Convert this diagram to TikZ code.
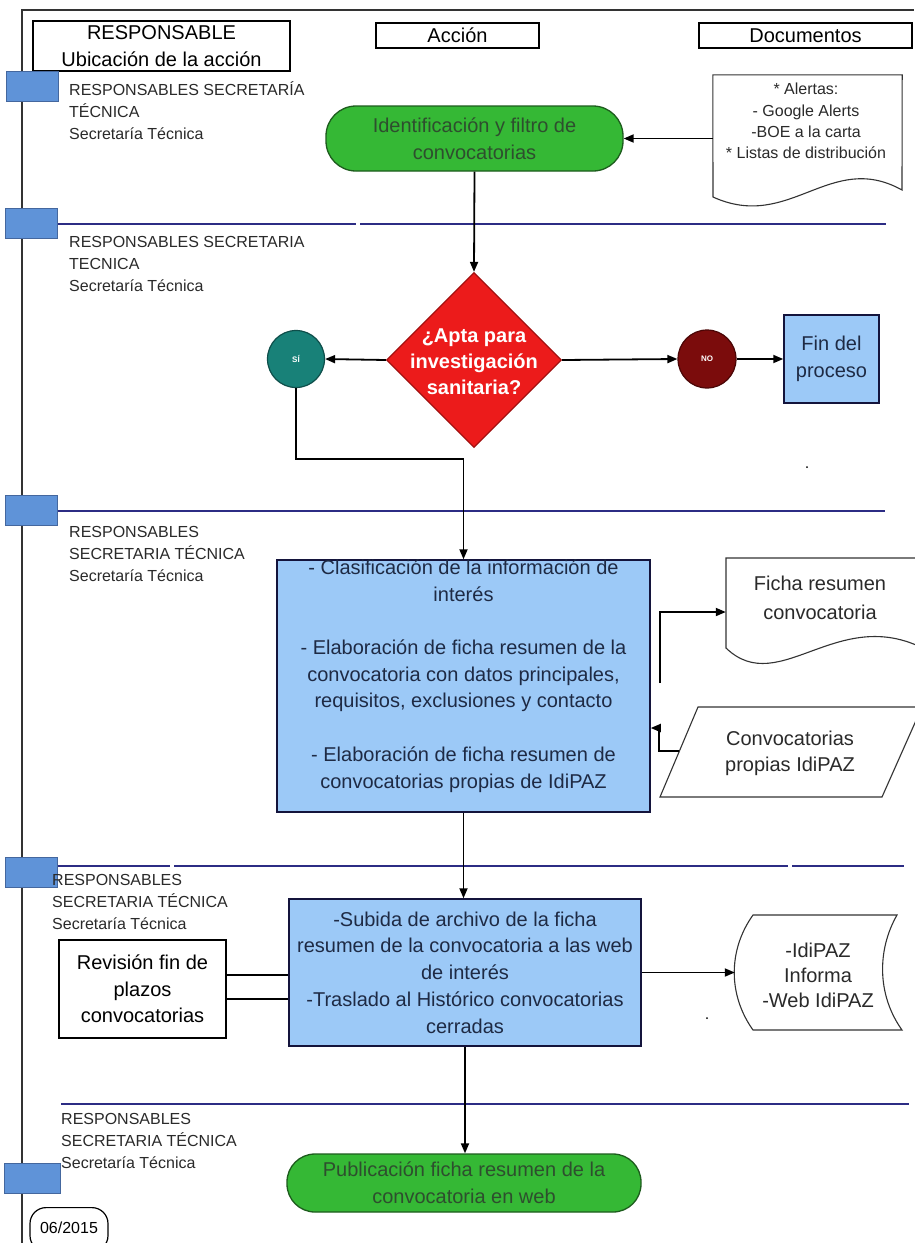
\documentclass[tikz,border=0pt]{standalone}
\usepackage{fontspec}
\setmainfont{Liberation Sans}
\usetikzlibrary{shapes.geometric,arrows.meta}
\definecolor{laneblue}{HTML}{5F93D8}
\definecolor{laneblueb}{HTML}{44679E}
\definecolor{navyline}{HTML}{2C2C84}
\definecolor{procfill}{HTML}{9CC9F7}
\definecolor{procdraw}{HTML}{14143C}
\definecolor{termfill}{HTML}{35B835}
\definecolor{termdraw}{HTML}{1D5C1D}
\definecolor{termtext}{HTML}{2E4E2E}
\definecolor{decfill}{HTML}{EC1B1B}
\definecolor{decdraw}{HTML}{A31010}
\definecolor{siteal}{HTML}{188178}
\definecolor{siteald}{HTML}{0E4E4A}
\definecolor{nored}{HTML}{7B0C0C}
\definecolor{noredd}{HTML}{4A0606}
\definecolor{boxtext}{HTML}{1E2A44}
\definecolor{lanetext}{HTML}{2A2A2A}
\definecolor{framec}{HTML}{333333}
\newcommand\fmain{\fontsize{20}{26.7}\selectfont}
\newcommand\flane{\fontsize{16}{22}\selectfont}
\newcommand\falert{\fontsize{16}{21.3}\selectfont}
\begin{document}
\begin{tikzpicture}[x=1pt,y=-1pt,
  arr/.style={-{Triangle[length=10pt,width=8pt]}, line width=1.8pt, black},
  plain/.style={line width=1.8pt, black},
  lanesq/.style={draw=laneblueb, fill=laneblue, line width=1pt, minimum width=52pt, minimum height=30pt, inner sep=0pt},
  divider/.style={navyline, line width=2.2pt},
  lanelbl/.style={anchor=base west, align=left, inner sep=0pt, font=\flane, text=lanetext},
  hdrbox/.style={draw=black, line width=1.3pt, inner sep=0pt, font=\fmain, align=center},
  termbox/.style={draw=termdraw, fill=termfill, line width=1.3pt, rounded corners=30pt, inner sep=0pt, font=\fmain, text=termtext, align=center},
  procbox/.style={draw=procdraw, fill=procfill, line width=1.5pt, inner sep=0pt, font=\fmain, text=boxtext, align=center},
  plainbox/.style={draw=black, fill=white, line width=1.5pt, inner sep=0pt, font=\fmain, align=center},
  ghost/.style={inner sep=0pt},
  doctext/.style={inner sep=0pt, font=\fmain, text=lanetext, align=center},
  shapeline/.style={draw=framec, fill=white, line width=1.1pt}
]
\useasboundingbox[fill=white] (0,0) rectangle (914,1243);

% frame
\draw[framec, line width=1.5pt] (22,1243) -- (22,10) -- (914,10);

% header boxes
\node[hdrbox, minimum width=257pt, minimum height=50pt] (hresp) at (161.5,46) {\fontsize{20}{28}\selectfont RESPONSABLE\\Ubicación de la acción};
\node[hdrbox, minimum width=163pt, minimum height=25pt] (haccion) at (457.5,35.5) {Acción};
\node[hdrbox, minimum width=213pt, minimum height=25pt] (hdocs) at (805.5,35.5) {Documentos};

% dividers
\draw[divider] (58,224) -- (356,224);
\draw[divider] (360,224) -- (886,224);
\draw[divider] (44,511) -- (885,511);
\draw[divider] (58,866) -- (170,866);
\draw[divider] (174,866) -- (788,866);
\draw[divider] (792,866) -- (904,866);
\draw[divider] (61,1104) -- (909,1104);

% lane squares
\node[lanesq] (sq1) at (32.5,86.5) {};
\node[lanesq] (sq2) at (31,223.5) {};
\node[lanesq] (sq3) at (31,510) {};
\node[lanesq] (sq4) at (31,872) {};
\node[lanesq, minimum width=56pt] (sq5) at (32,1178) {};

% lane labels (anchor = baseline of last line)
\node[lanelbl] (lane1) at (69,139) {RESPONSABLES SECRETARÍA\\TÉCNICA\\Secretaría Técnica};
\node[lanelbl] (lane2) at (69,291) {RESPONSABLES SECRETARIA\\TECNICA\\Secretaría Técnica};
\node[lanelbl] (lane3) at (69,581) {RESPONSABLES\\SECRETARIA TÉCNICA\\Secretaría Técnica};
\node[lanelbl] (lane4) at (52,929) {RESPONSABLES\\SECRETARIA TÉCNICA\\Secretaría Técnica};
\node[lanelbl] (lane5) at (61,1168) {RESPONSABLES\\SECRETARIA TÉCNICA\\Secretaría Técnica};

% terminal 1
\node[termbox, minimum width=297pt, minimum height=65pt] (term1) at (474.5,138.5) {\fontsize{20}{28}\selectfont Identificación y filtro de\\convocatorias};

% alertas document
\node[ghost, minimum width=189pt, minimum height=122pt] (alert) at (807.5,136) {};
\draw[shapeline] (alert.north west) -- (alert.north east) -- (902,190) .. controls (830,150) and (790,232) .. (713,197) -- cycle;
\node[doctext, font=\falert] (alerttxt) at (806,121) {* Alertas:\\- Google Alerts\\-BOE a la carta\\* Listas de distribución};
\draw[arr] (alert.west |- term1.east) -- (term1.east);

% decision
\node[diamond, draw=decdraw, fill=decfill, line width=1.3pt, minimum width=175pt, minimum height=175pt, inner sep=0pt] (dec) at (474,360) {};
\node[inner sep=0pt, align=center, text=white, font=\fontsize{20}{26}\selectfont\bfseries] (dectxt) at (474,362) {¿Apta para\\investigación\\sanitaria?};
\draw[arr] (term1.south) -- (dec.north);

\node[circle, draw=siteald, fill=siteal, line width=1.2pt, minimum size=57pt, inner sep=0pt, text=white, font=\fontsize{8}{8}\selectfont\bfseries] (si) at (296,359) {SÍ};
\node[circle, draw=noredd, fill=nored, line width=1.2pt, minimum size=58pt, inner sep=0pt, text=white, font=\fontsize{8}{8}\selectfont\bfseries] (no) at (707,359) {NO};
\node[procbox, minimum width=95pt, minimum height=88pt] (fin) at (831.5,359) {\fontsize{20}{28}\selectfont Fin del\\proceso};
\draw[arr] (dec.west) -- (si.east);
\draw[arr] (dec.east) -- (no.west);
\draw[arr] (no.east) -- (fin.west);

% box 1
\node[procbox, minimum width=373pt, minimum height=252pt] (box1) at (463.5,686) {};
\node[inner sep=0pt, align=center, font=\fmain, text=boxtext] (box1txt) at (463.5,676) {- Clasificación de la información de\\interés\\[26.7pt]- Elaboración de ficha resumen de la\\convocatoria con datos principales,\\requisitos, exclusiones y contacto\\[26.7pt]- Elaboración de ficha resumen de\\convocatorias propias de IdiPAZ};
\draw[arr] (si.south) |- (463.5,459) -- (box1.north);

% ficha document
\node[ghost, minimum width=204pt, minimum height=108pt] (ficha) at (828,612) {};
\draw[shapeline] (726,558) -- (930,558) -- (930,652) .. controls (840,600) and (780,700) .. (726,648) -- cycle;
\node[doctext, font=\fontsize{20}{29}\selectfont] (fichatxt) at (820,598) {Ficha resumen\\convocatoria};
\coordinate (fstart) at (660,683);
\draw[arr] (fstart) |- (ficha.west);

% convocatorias propias parallelogram
\draw[shapeline] (660,797) -- (698,707) -- (922,707) -- (882,797) -- cycle;
\node[doctext, font=\fontsize{20}{26}\selectfont] (conv) at (790,753) {Convocatorias\\propias IdiPAZ};
\coordinate (cstart) at (679,751);
\draw[arr] (cstart) -- (659,751) -- (659,728) -- (box1.east |- 0,728);

% box 2
\node[procbox, minimum width=352pt, minimum height=147pt] (box2) at (465,972.5) {\fontsize{20}{26.75}\selectfont -Subida de archivo de la ficha\\resumen de la convocatoria a las web\\de interés\\-Traslado al Histórico convocatorias\\cerradas};
\draw[arr] (box1.south) -- (box1.south |- box2.north);

% revision box
\node[plainbox, minimum width=167pt, minimum height=98pt] (rev) at (142.5,989) {\fontsize{20}{27}\selectfont Revisión fin de\\plazos\\convocatorias};
\draw[plain] (rev.east |- 0,975) -- (box2.west |- 0,975);
\draw[plain] (rev.east |- 0,999) -- (box2.west |- 0,999);

% IdiPAZ stored data
\node[ghost, minimum width=167pt, minimum height=115pt] (idipaz) at (818.5,972.5) {};
\draw[shapeline] (753,915) -- (897,915) .. controls (877,950) and (877,995) .. (902,1030) -- (753,1030) .. controls (728,995) and (728,950) .. (753,915) -- cycle;
\node[doctext, font=\fontsize{20}{25}\selectfont] (idipaztxt) at (818,975) {-IdiPAZ\\Informa\\-Web IdiPAZ};
\draw[arr] (box2.east) -- (idipaz.west);

% terminal 2
\node[termbox, minimum width=354pt, minimum height=58pt, rounded corners=28pt] (term2) at (464,1183) {\fontsize{20}{25}\selectfont Publicación ficha resumen de la\\convocatoria en web};
\draw[arr] (box2.south) -- (box2.south |- term2.north);

% date
\node[draw=black, line width=1.2pt, rounded corners=16pt, minimum width=78pt, minimum height=44pt, inner sep=0pt, anchor=north] (fecha) at (69,1207) {};
\node[inner sep=0pt, font=\fontsize{16}{16}\selectfont] (fechatxt) at (69,1228) {06/2015};

% stray dots
\fill[black] (807,467) circle (1pt);
\fill[black] (707,1018) circle (1pt);
\end{tikzpicture}
\end{document}
